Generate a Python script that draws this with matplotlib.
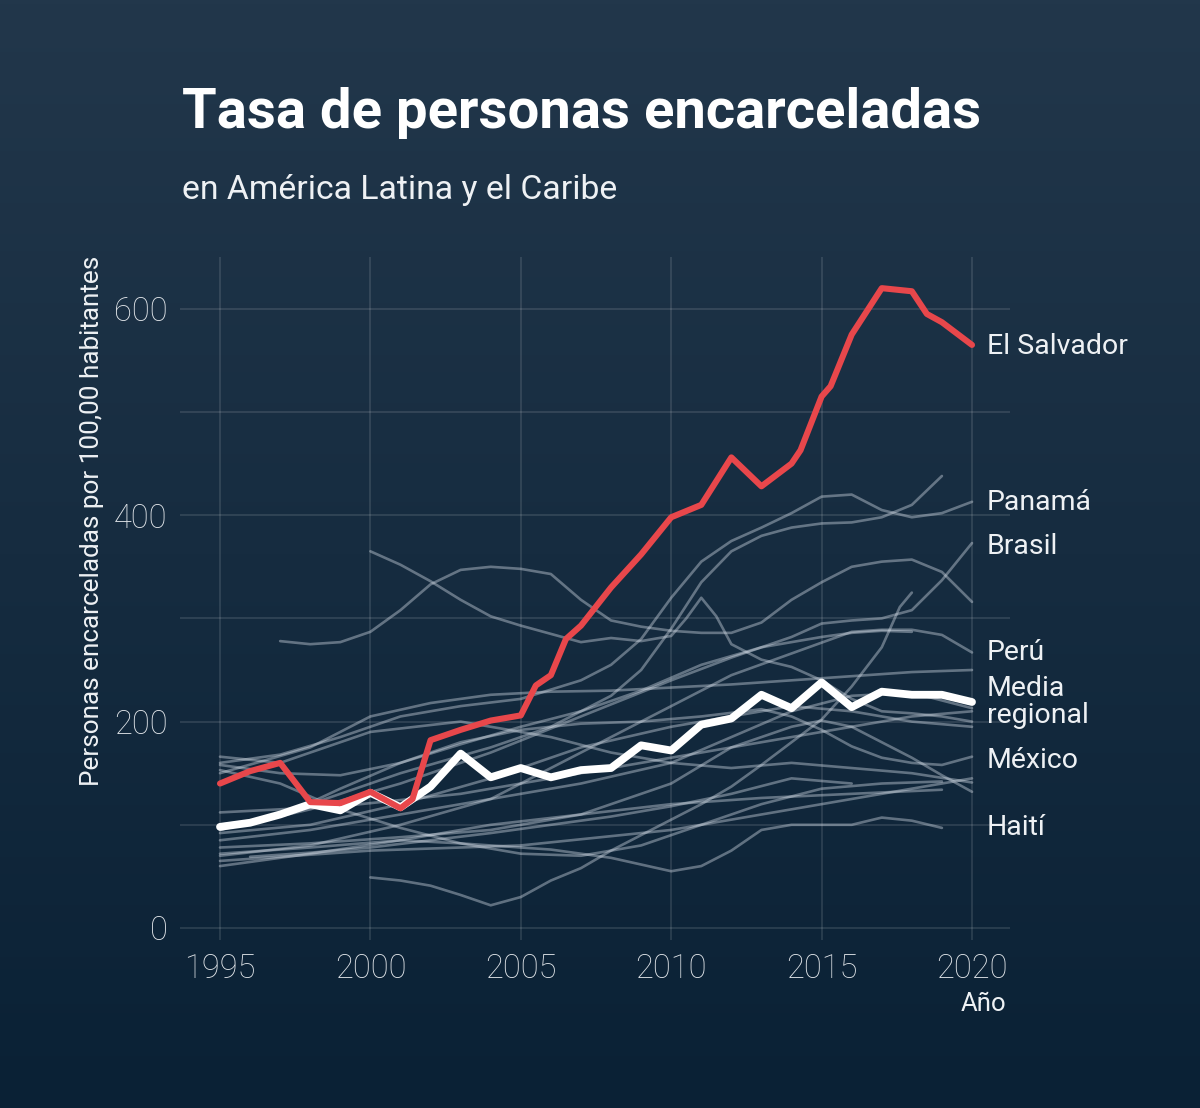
import numpy as np
import matplotlib
matplotlib.use("Agg")
import matplotlib.pyplot as plt
from matplotlib.colors import LinearSegmentedColormap

# ---- data ----
salvador_years = [1995, 1996, 1997, 1998, 1999, 2000, 2001, 2001.4, 2002, 2003, 2004, 2005,
                  2005.5, 2006, 2006.5, 2007, 2008, 2009, 2010, 2011, 2012, 2013, 2014,
                  2014.3, 2015, 2015.3, 2016, 2017, 2018, 2018.5, 2019, 2020]
salvador_vals = [140, 152, 160, 122, 121, 132, 116, 125, 182, 192, 201, 206,
                 235, 245, 280, 293, 330, 362, 398, 410, 456, 428, 450,
                 463, 515, 525, 575, 620, 617, 595, 587, 565]

mean_years = [1995, 1996, 1997, 1998, 1999, 2000, 2001, 2002, 2003, 2004, 2005, 2006, 2007,
              2008, 2009, 2010, 2011, 2012, 2013, 2014, 2015, 2016, 2017, 2018, 2019, 2020]
mean_vals = [98, 102, 110, 120, 114, 131, 117, 137, 169, 146, 155, 146, 153,
             155, 177, 172, 197, 203, 226, 213, 238, 214, 229, 226, 226, 219]

# other countries (unlabelled grey lines unless named)
panama_years = [1995, 1997, 1999, 2001, 2003, 2005, 2007, 2008, 2009, 2010, 2011, 2012, 2013,
                2014, 2015, 2016, 2017, 2018, 2019, 2020]
panama_vals = [160, 168, 185, 205, 215, 222, 240, 255, 280, 320, 355, 375, 388,
               402, 418, 420, 405, 398, 402, 413]
brasil_years = [1995, 1998, 2001, 2004, 2007, 2010, 2012, 2014, 2015, 2016, 2017, 2018, 2019, 2020]
brasil_vals = [95, 115, 140, 170, 205, 240, 262, 282, 295, 298, 300, 308, 337, 373]
peru_years = [1995, 1998, 2001, 2004, 2007, 2010, 2012, 2014, 2016, 2017, 2018, 2019, 2020]
peru_vals = [70, 80, 100, 125, 170, 215, 245, 266, 287, 289, 289, 284, 267]
mexico_years = [1995, 1997, 1999, 2001, 2003, 2005, 2007, 2009, 2011, 2013, 2014, 2015, 2016,
                2017, 2018, 2019, 2020]
mexico_vals = [100, 108, 135, 160, 180, 192, 198, 200, 205, 212, 205, 192, 176,
               165, 160, 158, 166]
haiti_years = [1995, 1998, 2001, 2003, 2006, 2008, 2010, 2011, 2012, 2013, 2014, 2016, 2017, 2018, 2019]
haiti_vals = [72, 78, 85, 82, 76, 68, 55, 60, 75, 95, 100, 100, 107, 104, 97]

other_years = [
    [1995, 1998, 2001, 2004, 2006, 2008, 2009, 2010, 2011, 2012, 2013, 2014, 2015, 2016, 2017, 2018, 2019],
    [1997, 1998, 1999, 2000, 2001, 2002, 2003, 2004, 2005, 2006, 2007, 2008, 2009, 2010, 2011,
     2012, 2013, 2014, 2015, 2016, 2017, 2018, 2019, 2020],
    [2000, 2001, 2002, 2003, 2004, 2005, 2006, 2007, 2008, 2009, 2010, 2010.5, 2011, 2011.5,
     2012, 2013, 2014, 2015, 2016, 2017, 2018, 2019, 2020],
    [2000, 2001, 2002, 2003, 2004, 2005, 2006, 2007, 2008, 2009, 2010, 2011, 2012, 2013, 2014,
     2015, 2016, 2017, 2017.6, 2018],
    [1995, 1998, 2000, 2002, 2004, 2006, 2008, 2010, 2012, 2014, 2016, 2018, 2020],
    [1995, 1997, 1999, 2001, 2003, 2005, 2007, 2009, 2011, 2013, 2015, 2016, 2017, 2018],
    [1995, 1998, 2001, 2004, 2007, 2010, 2012, 2014, 2016, 2018, 2020],
    [1995, 1997, 2000, 2003, 2006, 2008, 2010, 2012, 2014, 2016, 2018, 2020],
    [1995, 1998, 2001, 2004, 2007, 2010, 2012, 2014, 2015, 2016, 2017, 2018, 2019, 2020],
    [1995, 1998, 2001, 2004, 2007, 2010, 2013, 2016, 2019],
    [1996, 1998, 2000, 2002, 2004, 2006, 2008, 2010, 2012, 2014, 2016],
    [1995, 1999, 2003, 2007, 2011, 2015, 2018, 2020],
    [1995, 1998, 2001, 2004, 2007, 2010, 2012, 2014, 2016, 2018, 2020],
    [1995, 1997, 1999, 2001, 2003, 2005, 2007, 2009, 2011, 2013, 2015, 2017, 2019],
    [1995, 2000, 2005, 2010, 2015, 2020],
]
other_vals = [
    [95, 120, 150, 175, 195, 225, 250, 290, 335, 365, 380, 388, 392, 393, 398, 410, 438],
    [278, 275, 277, 287, 308, 333, 347, 350, 348, 343, 318, 298, 292, 288, 286,
     286, 296, 318, 335, 350, 355, 357, 345, 316],
    [365, 352, 336, 318, 302, 293, 285, 277, 281, 278, 283, 300, 320, 302,
     275, 260, 253, 240, 222, 210, 208, 205, 200],
    [49, 46, 41, 32, 22, 30, 46, 58, 75, 90, 105, 120, 137, 158, 180,
     202, 234, 272, 311, 325],
    [150, 175, 205, 218, 226, 229, 230, 233, 236, 240, 244, 248, 250],
    [158, 150, 148, 160, 178, 195, 210, 230, 255, 272, 282, 286, 288, 287],
    [85, 95, 110, 125, 140, 160, 185, 210, 225, 228, 213],
    [166, 160, 190, 200, 185, 170, 160, 155, 160, 155, 150, 141],
    [78, 82, 88, 95, 110, 140, 175, 195, 201, 195, 180, 165, 148, 132],
    [60, 72, 85, 100, 110, 120, 126, 130, 134],
    [69, 73, 78, 85, 92, 100, 108, 118, 130, 145, 140],
    [112, 118, 130, 150, 170, 190, 205, 210],
    [92, 100, 120, 145, 175, 195, 205, 215, 210, 200, 195],
    [153, 140, 115, 97, 82, 72, 70, 80, 100, 120, 135, 140, 142],
    [65, 75, 80, 95, 120, 145],
]

labels = ["El Salvador", "Panamá", "Brasil", "Perú", "Media\nregional", "México", "Haití"]
label_vals = [565, 413, 373, 267, 219, 166, 97]
label_offsets = [-2, -1, -3, 0, 0, -4, 0]

years_ticks = [1995, 2000, 2005, 2010, 2015, 2020]
val_ticks = [0, 200, 400, 600]

# ---- figure ----
W, H = 1200, 1108
fig = plt.figure(figsize=(W / 100, H / 100), dpi=100)

bg = fig.add_axes([0, 0, 1, 1], zorder=-10)
cmap = LinearSegmentedColormap.from_list("bg", ["#22374b", "#0a2135"])
bg.imshow(np.linspace(0, 1, 256).reshape(-1, 1), aspect="auto", cmap=cmap,
          extent=[0, 1, 0, 1])
bg.set_axis_off()

narrow = ["Roboto", "DejaVu Sans"]
txt = "#eef1f4"
tick_col = "#e2e6ea"
grid_col = (1, 1, 1, 0.13)

ax = fig.add_axes([180 / W, 1 - 940 / H, 830 / W, 683 / H])
ax.set_facecolor("none")
ax.set_xlim(1995 - 40 / 30.08, 2020 + 38 / 30.08)
ax.set_ylim(-12 / 1.032, 671 / 1.032)

for y in range(0, 700, 100):
    ax.axhline(y, color=grid_col, lw=1.2, zorder=0)
for x in range(1995, 2021, 5):
    ax.axvline(x, color=grid_col, lw=1.2, zorder=0)

grey = (0.86, 0.89, 0.93, 0.40)
for ys, vs in [(panama_years, panama_vals), (brasil_years, brasil_vals),
               (peru_years, peru_vals), (mexico_years, mexico_vals),
               (haiti_years, haiti_vals)] + list(zip(other_years, other_vals)):
    ax.plot(ys, vs, color=grey, lw=1.9, solid_capstyle="round", solid_joinstyle="round", zorder=2)

ax.plot(mean_years, mean_vals, color="white", lw=5.6, solid_joinstyle="round",
        solid_capstyle="round", zorder=4)
ax.plot(salvador_years, salvador_vals, color="#e8474b", lw=4.4, solid_joinstyle="round",
        solid_capstyle="round", zorder=5)

for lab, v, off in zip(labels, label_vals, label_offsets):
    ax.text(2020.5, v + off, lab, color=txt, fontsize=20.5, family=narrow,
            va="center", ha="left", linespacing=1.0, zorder=6, clip_on=False)

for s in ax.spines.values():
    s.set_visible(False)
ax.set_xticks(years_ticks)
ax.set_yticks(val_ticks)
ax.tick_params(length=0, colors=tick_col, labelsize=23.5, pad=9)
for lab in ax.get_xticklabels() + ax.get_yticklabels():
    lab.set_family(narrow)
    lab.set_fontweight("light")

fig.text(1006 / W, 1 - 1004 / H, "Año", color=txt, fontsize=18.5, family=narrow,
         ha="right", va="center")
fig.text(92 / W, 1 - 521 / H, "Personas encarceladas por 100,00 habitantes", color=txt,
         fontsize=18.8, family=narrow, rotation=90, ha="center", va="center")

fig.text(182 / W, 1 - 113 / H, "Tasa de personas encarceladas", color="white",
         fontsize=40.5, fontweight="bold", family=["Roboto", "DejaVu Sans"],
         ha="left", va="center")
fig.text(182 / W, 1 - 190 / H, "en América Latina y el Caribe", color=txt,
         fontsize=24.3, family=narrow, ha="left", va="center")

fig.savefig("out.png", dpi=100, facecolor=fig.get_facecolor())
